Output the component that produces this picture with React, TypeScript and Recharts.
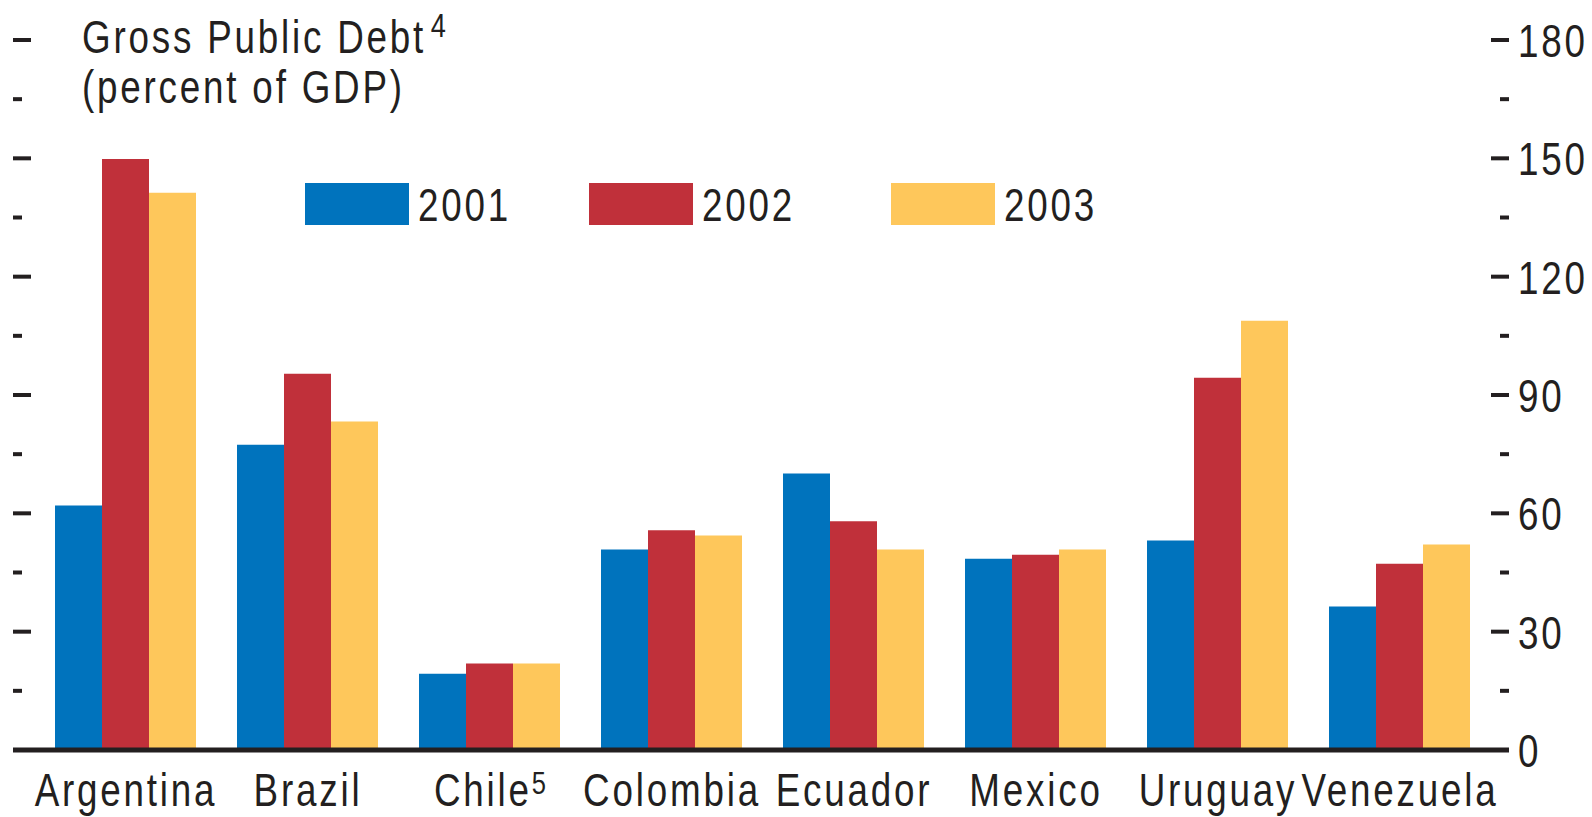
import { BarChart, Bar, XAxis, YAxis, Legend } from 'recharts';

const countries = ['Argentina', 'Brazil', 'Chile', 'Colombia', 'Ecuador', 'Mexico', 'Uruguay', 'Venezuela'];
const countryNotes = ['', '', '5', '', '', '', '', ''];
const debt2001 = [62, 77.4, 19.3, 50.8, 70.1, 48.5, 53.1, 36.4];
const debt2002 = [149.8, 95.4, 21.9, 55.7, 58, 49.5, 94.4, 47.2];
const debt2003 = [141.3, 83.3, 21.9, 54.4, 50.8, 50.8, 108.8, 52.1];
const yTicks = [0, 15, 30, 45, 60, 75, 90, 105, 120, 135, 150, 165, 180];

const FONT = '"Liberation Sans", Arial, sans-serif';
const INK = '#231f20';
const FS = 46;
const LS = 3.5;
const SX = 0.8; // condensed look
const legendGaps = [73, 91, 0];

const data = countries.map((name, i) => ({
  name,
  note: countryNotes[i],
  y2001: debt2001[i],
  y2002: debt2002[i],
  y2003: debt2003[i],
}));

// condensed svg text, anchored at (x, y)
function Cond({ x, y, anchor = 'start', children }: any) {
  return (
    <text
      transform={`translate(${x} ${y}) scale(${SX} 1)`}
      textAnchor={anchor}
      fontSize={FS}
      fontFamily={FONT}
      letterSpacing={LS}
      fill={INK}
    >
      {children}
    </text>
  );
}

function LeftTick(props: any) {
  const { x, y, payload } = props;
  const major = payload.value % 30 === 0;
  return <line x1={x} x2={x + (major ? 18 : 9)} y1={y} y2={y} stroke={INK} strokeWidth={4} />;
}

function RightTick(props: any) {
  const { x, y, payload } = props;
  const major = payload.value % 30 === 0;
  return (
    <g>
      <line x1={x - (major ? 18 : 9)} x2={x} y1={y} y2={y} stroke={INK} strokeWidth={4} />
      {major && (
        <Cond x={x + 9} y={y + 17}>
          {payload.value}
        </Cond>
      )}
    </g>
  );
}

function CountryTick(props: any) {
  const { x, y, payload, index } = props;
  const note = countryNotes[index];
  return (
    <Cond x={x} y={y + 56} anchor="middle">
      {payload.value}
      {note ? (
        <tspan dy={-12} fontSize={32} letterSpacing={0}>
          {note}
        </tspan>
      ) : null}
    </Cond>
  );
}

function LegendContent(props: any) {
  const { payload } = props;
  return (
    <div style={{ display: 'flex', alignItems: 'center' }}>
      {payload.map((p: any, i: number) => (
        <div key={p.value} style={{ display: 'flex', alignItems: 'center', marginRight: legendGaps[i] }}>
          <div style={{ width: 104, height: 42, background: p.color }} />
          <div style={{ width: 98, marginLeft: 9, height: 42, overflow: 'visible' }}>
            <span
              style={{
                display: 'inline-block',
                transform: `scaleX(${SX})`,
                transformOrigin: 'left center',
                fontSize: FS,
                fontFamily: FONT,
                letterSpacing: LS,
                color: INK,
                lineHeight: '44px',
                whiteSpace: 'nowrap',
              }}
            >
              {p.value}
            </span>
          </div>
        </div>
      ))}
    </div>
  );
}

export default function App() {
  return (
    <div style={{ position: 'absolute', left: 0, top: 0, width: 1592, height: 817, background: '#fff' }}>
      <BarChart
        width={1592}
        height={817}
        data={data}
        margin={{ top: 40, right: 0, left: 0, bottom: 0 }}
        barCategoryGap={20}
        barGap={0}
      >
        <XAxis
          dataKey="name"
          height={67}
          padding={{ left: 22, right: 18 }}
          axisLine={{ stroke: INK, strokeWidth: 5 }}
          tickLine={false}
          tickSize={0}
          tickMargin={0}
          interval={0}
          tick={<CountryTick />}
        />
        <YAxis
          yAxisId="left"
          orientation="left"
          width={13}
          type="number"
          domain={[0, 180]}
          allowDataOverflow
          ticks={yTicks}
          axisLine={false}
          tickLine={false}
          tickSize={0}
          tickMargin={0}
          interval={0}
          tick={<LeftTick />}
        />
        <YAxis
          yAxisId="right"
          orientation="right"
          width={83}
          type="number"
          domain={[0, 180]}
          allowDataOverflow
          ticks={yTicks}
          axisLine={false}
          tickLine={false}
          tickSize={0}
          tickMargin={0}
          interval={0}
          tick={<RightTick />}
        />
        <Legend
          layout="horizontal"
          verticalAlign="middle"
          align="center"
          content={<LegendContent />}
          wrapperStyle={{ top: 183, left: 305, width: 'auto' }}
        />
        <Bar yAxisId="left" dataKey="y2001" name="2001" fill="#0073bd" isAnimationActive={false} />
        <Bar yAxisId="right" dataKey="y2002" name="2002" fill="#c0303a" isAnimationActive={false} />
        <Bar yAxisId="right" dataKey="y2003" name="2003" fill="#fec75b" isAnimationActive={false} />
      </BarChart>
      <svg width={600} height={130} style={{ position: 'absolute', left: 0, top: 0, pointerEvents: 'none' }}>
        <Cond x={82} y={53}>
          Gross Public Debt
          <tspan dx={6} dy={-16} fontSize={34} letterSpacing={0}>
            4
          </tspan>
        </Cond>
        <Cond x={82} y={103}>
          (percent of GDP)
        </Cond>
      </svg>
    </div>
  );
}
